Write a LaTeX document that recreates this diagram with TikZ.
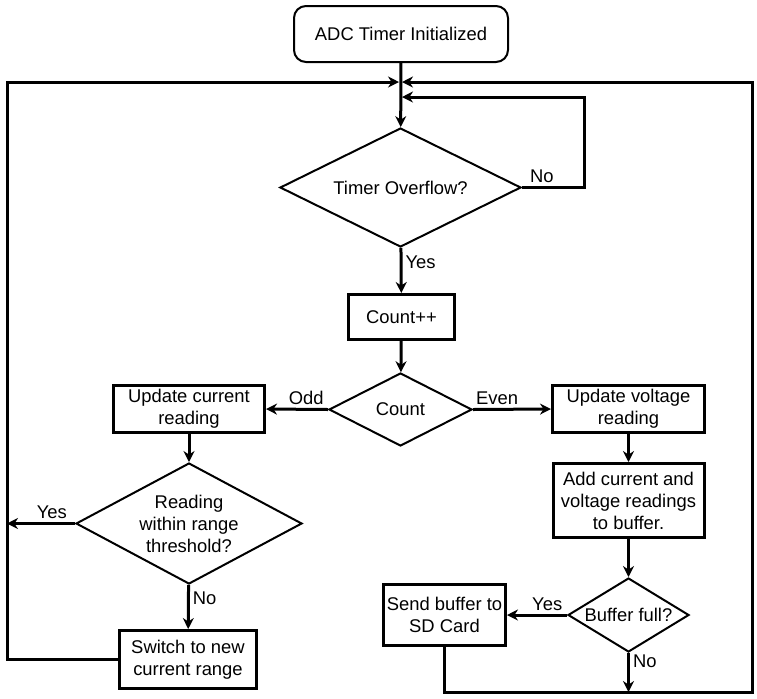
\documentclass[tikz,border=0pt]{standalone}
\usepackage{fontspec}
\setmainfont{Liberation Sans}
\usetikzlibrary{positioning,arrows.meta,shapes.geometric}

\begin{document}
\begin{tikzpicture}[x=0.5pt,y=-0.5pt,
  box/.style={draw,line width=1.5pt,align=center,inner sep=0pt,font=\fontsize{9.2}{11}\selectfont},
  dec/.style={draw,diamond,line width=1pt,align=center,inner sep=0pt,font=\fontsize{9.2}{11}\selectfont},
  arr/.style={line width=1.5pt,-{Stealth[length=5.5pt,width=5.5pt]}},
  lbl/.style={font=\fontsize{9.2}{11}\selectfont,inner sep=1.5pt}]
\useasboundingbox (0,0) rectangle (757,698);
% --- main column ---
\node[box,line width=1pt,rounded corners=6pt,minimum width=107pt,minimum height=28pt] (init) at (401,34) {ADC Timer Initialized};
\node[dec,aspect=2,minimum width=120.5pt,minimum height=59.5pt] (tmr) at (400.5,187.5) {Timer Overflow?};
\node[box,minimum width=53pt,minimum height=22.5pt] (cnt) at (401.5,317) {Count++};
\node[dec,aspect=1.93,minimum width=71.5pt,minimum height=36.5pt] (cdec) at (400.5,409.5) {Count};
% --- current branch ---
\node[box,minimum width=75.5pt,minimum height=23.5pt] (upc) at (189,409) {Update current\\reading};
\node[dec,aspect=1.85,minimum width=113pt,minimum height=60.5pt] (rdec) at (189,523.5) {Reading\\within range\\threshold?};
\node[box,minimum width=68.5pt,minimum height=29pt] (sw) at (188,659.5) {Switch to new\\current range};
% --- voltage branch ---
\node[box,minimum width=76pt,minimum height=23.5pt] (upv) at (628.5,409) {Update voltage\\reading};
\node[box,minimum width=75.5pt,minimum height=37pt] (addb) at (628.5,500.5) {Add current and\\voltage readings\\to buffer.};
\node[dec,aspect=1.6,minimum width=60.5pt,minimum height=37pt] (bfull) at (628.5,615) {Buffer full?};
\node[box,minimum width=61pt,minimum height=30.5pt] (send) at (444.5,615) {Send buffer to\\SD Card};
% --- loop corners ---
\coordinate (j1) at (400.5,82);
\coordinate (j2) at (400.5,97);
\coordinate (nr) at (584,97);
\coordinate (lt) at (7,82);
\coordinate (rt) at (752,82);
\coordinate (rb) at (752,692);
\coordinate (nb) at (628.5,692);
\coordinate (yl) at (7,523.5);
% --- connectors ---
\draw[arr] (init) -- (tmr);
\draw[arr,shorten >=0.75pt] (tmr.east) -| (nr) node[lbl,above,pos=0.16] {No} -- (j2);
\draw[arr] (tmr) -- (cnt) node[lbl,right,pos=0.31] {Yes};
\draw[arr] (cnt) -- (cdec);
\draw[arr] (cdec.west) -- (upc.east) node[lbl,above,pos=0.35] {Odd};
\draw[arr] (cdec.east) -- (upv.west) node[lbl,above,pos=0.31] {Even};
\draw[arr] (upc) -- (rdec);
\draw[arr] (rdec.west) -- (yl) node[lbl,above,pos=0.34] {Yes};
\draw[arr] (rdec) -- (sw) node[lbl,right,pos=0.3] {No};
\draw[arr,shorten >=0.75pt] (sw.west) -| (lt) -- (j1);
\draw[arr] (upv) -- (addb);
\draw[arr] (addb) -- (bfull);
\draw[arr] (bfull.west) -- (send.east) node[lbl,above,pos=0.33] {Yes};
\draw[arr] (bfull) -- (nb) node[lbl,right,pos=0.2] {No};
\draw[arr,shorten >=0.75pt] (send.south) |- (rb) -- (rt) -- (j1);
\end{tikzpicture}
\end{document}
